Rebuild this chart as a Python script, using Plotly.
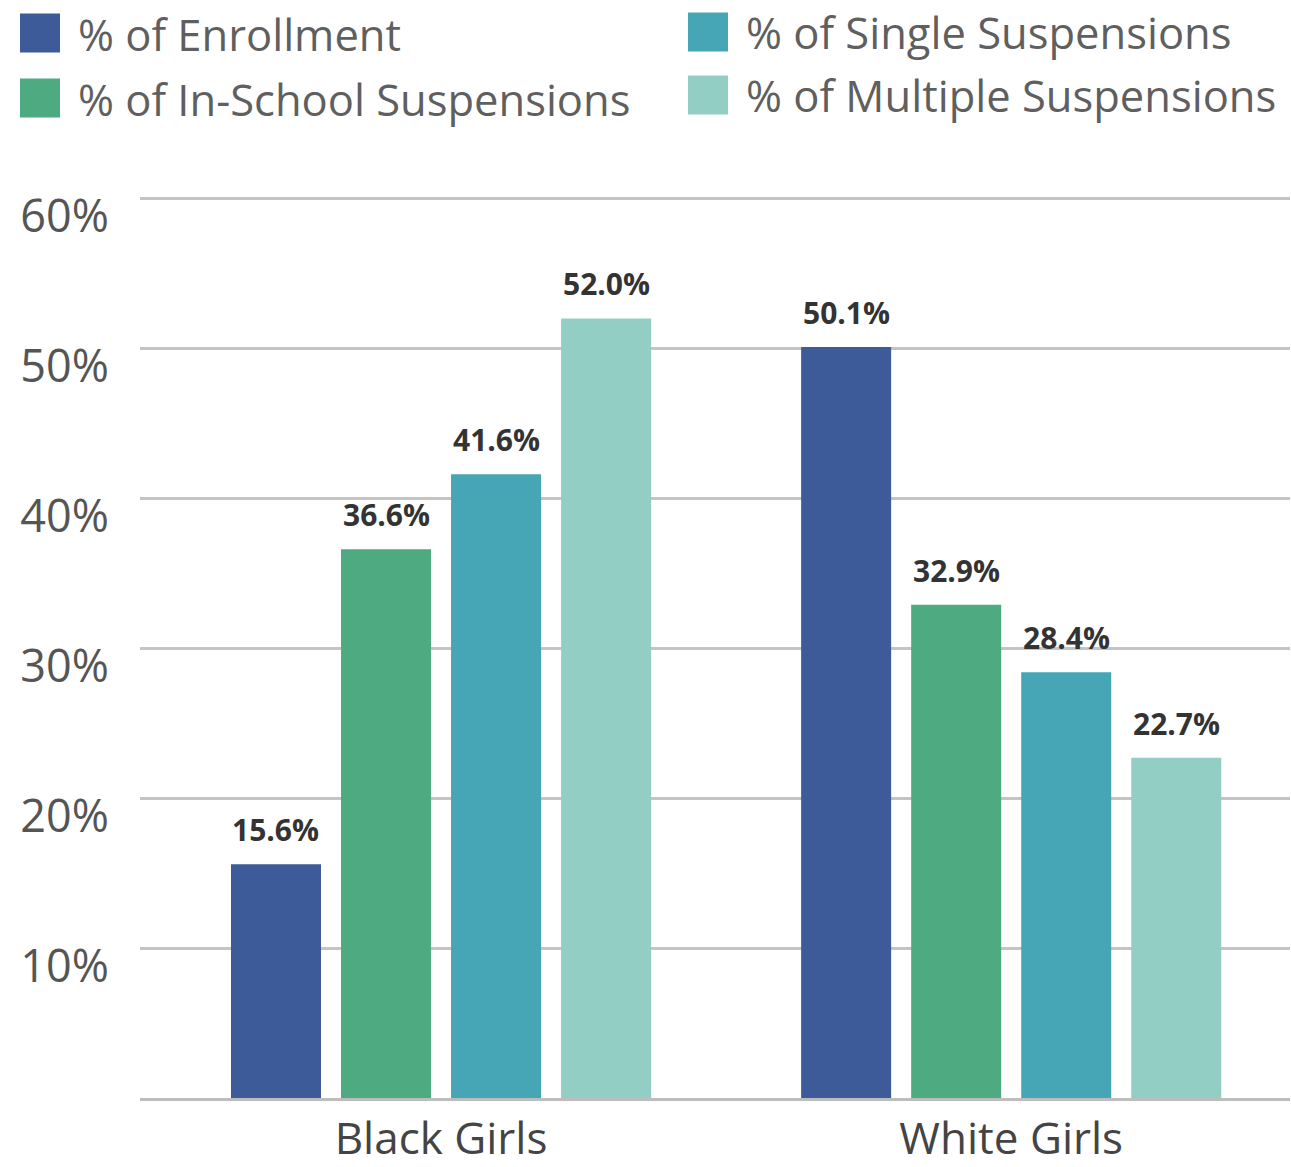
import plotly.graph_objects as go

categories = ["Black Girls", "White Girls"]
series_names = [
    "% of Enrollment",
    "% of In-School Suspensions",
    "% of Single Suspensions",
    "% of Multiple Suspensions",
]
enrollment = [15.6, 50.1]
in_school = [36.6, 32.9]
single = [41.6, 28.4]
multiple = [52.0, 22.7]
tick_values = [10, 20, 30, 40, 50, 60]
tick_labels = ["10%", "20%", "30%", "40%", "50%", "60%"]

colors = ["#3C5B98", "#4DAA81", "#46A6B5", "#93CEC4"]
series_values = [enrollment, in_school, single, multiple]

W, H = 1291, 1167
Y_MAX = 60.3
ML, MR, MB = 140, 1, 69
PH_60 = 900  # pixels from 0 to 60
PH = PH_60 * Y_MAX / 60
MT = H - MB - PH
PW = W - ML - MR
FONT = "Open Sans"

BARGAP = 0.228
BARGROUPGAP = 0.182
X_RANGE = [-0.528, 1.489]
UNIT_PX = PW / (X_RANGE[1] - X_RANGE[0])
SLOT_PX = UNIT_PX * (1 - BARGAP) / len(series_names)


def px_x(px):
    return (px - ML) / PW


def px_y(py):
    return (H - MB - py) / PH


fig = go.Figure()
annotations = []
for i, (name, vals, col) in enumerate(zip(series_names, series_values, colors)):
    fig.add_trace(go.Bar(
        x=categories, y=vals, name=name,
        marker=dict(color=col, line=dict(width=0)),
        showlegend=False,
    ))
    shift = (i - (len(series_names) - 1) / 2) * SLOT_PX
    for c, v in zip(categories, vals):
        annotations.append(dict(
            x=c, y=v, xref="x", yref="y", text=f"{v:.1f}%", showarrow=False,
            xanchor="center", yanchor="bottom", xshift=shift, yshift=12,
            font=dict(family=FONT, size=30, color="#333333", weight="bold"),
        ))

# Manual legend (large square swatches)
legend_items = [
    (series_names[0], colors[0], 20, 13, 76, 34),
    (series_names[1], colors[1], 20, 78, 76, 99),
    (series_names[2], colors[2], 688, 12, 744, 32),
    (series_names[3], colors[3], 688, 75, 744, 95),
]
shapes = []
for name, col, sx, sy, tx, ty in legend_items:
    shapes.append(dict(type="rect", xref="paper", yref="paper",
                       x0=px_x(sx), x1=px_x(sx + 40),
                       y0=px_y(sy + 39), y1=px_y(sy),
                       fillcolor=col, line=dict(width=0)))
    annotations.append(dict(xref="paper", yref="paper", x=px_x(tx), y=px_y(ty),
                            xanchor="left", yanchor="middle", showarrow=False,
                            text=name, font=dict(family=FONT, size=43.5, color="#5f5f5f")))

fig.update_layout(
    width=W, height=H,
    margin=dict(l=ML, r=MR, t=MT, b=MB, pad=0),
    paper_bgcolor="white", plot_bgcolor="white",
    barmode="group", bargap=BARGAP, bargroupgap=BARGROUPGAP,
    font=dict(family=FONT, color="#555555"),
    shapes=shapes, annotations=annotations,
    showlegend=False,
)
fig.update_xaxes(
    range=X_RANGE, automargin=False,
    tickfont=dict(family=FONT, size=44, color="#444444"),
    showgrid=False, ticks="", showline=True, linecolor="#bdbdbd", linewidth=3,
    ticklabelstandoff=0,
)
fig.update_yaxes(
    range=[0, Y_MAX], tickvals=tick_values, ticktext=tick_labels, automargin=False,
    tickfont=dict(family=FONT, size=45, color="#555555"),
    showgrid=True, gridcolor="#c4c4c4", gridwidth=2.5,
    zeroline=False, showline=False, ticks="",
    ticklabelposition="outside", ticklabelshift=18, ticklabelstandoff=30,
)

fig.write_html(
    "out.html",
    config={"displayModeBar": False},
    post_script="document.body.style.margin='0';document.body.style.overflow='hidden';",
)
